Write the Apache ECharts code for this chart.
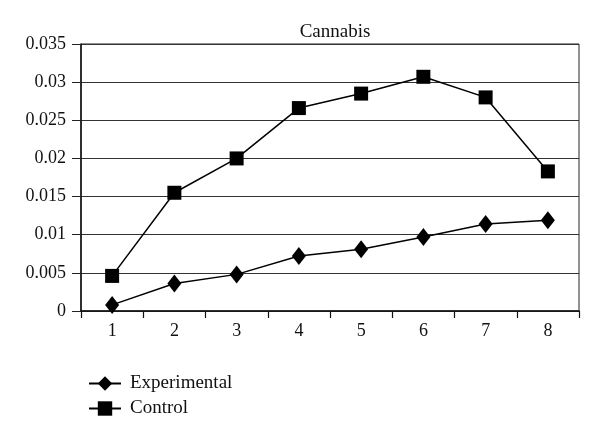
<!DOCTYPE html>
<html>
<head>
<meta charset="utf-8">
<script src="https://cdn.jsdelivr.net/npm/echarts@6/dist/echarts.min.js"></script>
<style>html,body{margin:0;padding:0;background:#fff;}#c{width:600px;height:437px;}</style>
</head>
<body>
<div id="c"></div>
<script>
const categories = ['1','2','3','4','5','6','7','8'];
const experimental = [0.0008, 0.0036, 0.0048, 0.0072, 0.0081, 0.0097, 0.0114, 0.0119];
const control = [0.0046, 0.0155, 0.0200, 0.0266, 0.0285, 0.0307, 0.0280, 0.0183];
const yTicks = [0, 0.005, 0.01, 0.015, 0.02, 0.025, 0.03, 0.035];

const font = 'Liberation Serif';
const chart = echarts.init(document.getElementById('c'));
chart.setOption({
  animation: false,
  backgroundColor: '#fff',
  title: {
    text: 'Cannabis', left: 330, top: 18, textAlign: 'center',
    textStyle: {fontFamily: font, fontSize: 19, fontWeight: 'normal', color: '#111'}
  },
  legend: {
    orient: 'vertical', left: 83, top: 369, itemGap: 6,
    itemWidth: 32, itemHeight: 18,
    textStyle: {fontFamily: font, fontSize: 19, color: '#111', padding: [0, 0, 0, 4]},
    data: ['Experimental', 'Control']
  },
  grid: {left: 81, right: 21, top: 44, bottom: 126, show: true, borderColor: '#222', borderWidth: 1},
  xAxis: {
    type: 'category', data: categories, boundaryGap: true,
    axisLine: {lineStyle: {color: '#111', width: 1.5}},
    axisTick: {show: true, length: 7, inside: false, lineStyle: {color: '#111', width: 1.2}},
    axisLabel: {fontFamily: font, fontSize: 18, color: '#111', margin: 11},
    splitLine: {show: false}
  },
  yAxis: {
    type: 'value', min: 0, max: 0.035, interval: 0.005,
    axisLine: {show: true, lineStyle: {color: '#111', width: 1.5}},
    axisTick: {show: true, length: 9, lineStyle: {color: '#222'}},
    axisLabel: {fontFamily: font, fontSize: 18, color: '#111', margin: 15,
      formatter: v => { const t = yTicks.find(x => Math.abs(x - v) < 1e-9); return String(t !== undefined ? +t.toFixed(3) : v); }},
    splitLine: {show: true, lineStyle: {color: '#333', width: 1}}
  },
  series: [
    {
      name: 'Experimental', type: 'line', data: experimental,
      symbol: 'diamond', symbolSize: [14, 18],
      itemStyle: {color: '#000'}, lineStyle: {color: '#000', width: 1.5}
    },
    {
      name: 'Control', type: 'line', data: control,
      symbol: 'rect', symbolSize: 14,
      itemStyle: {color: '#000'}, lineStyle: {color: '#000', width: 1.5}
    }
  ]
});
</script>
</body>
</html>
